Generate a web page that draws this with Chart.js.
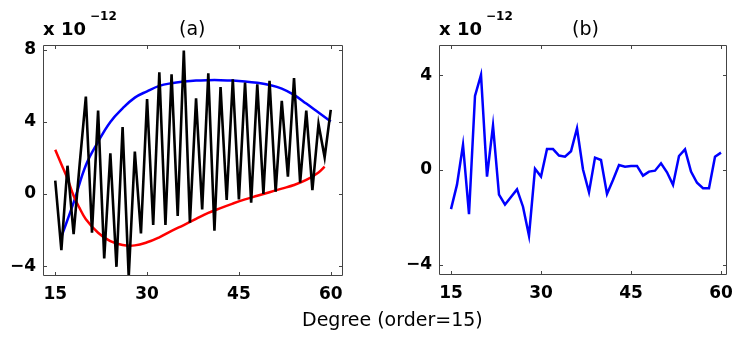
<!DOCTYPE html>
<html>
<head>
<meta charset="utf-8">
<script src="https://cdn.jsdelivr.net/npm/chart.js@4.4.1/dist/chart.umd.min.js"></script>
<style>
  html, body { margin: 0; padding: 0; background: #fff; }
  #wrap { position: relative; width: 741px; height: 343px; overflow: hidden; background: #fff; }
  .pane { position: absolute; top: 0; height: 343px; }
  .txt { position: absolute; white-space: nowrap; line-height: 1; color: #000; }
  .mult { font-family: "DejaVu Sans", sans-serif; font-weight: bold; font-size: 18px; }
  .sup { font-family: "DejaVu Sans", sans-serif; font-weight: bold; font-size: 12px; }
  .lab { font-family: "DejaVu Sans", sans-serif; font-size: 19px; }
</style>
</head>
<body>
<div id="wrap">
  <div class="pane" style="left:0;width:370px;"><canvas id="ca"></canvas></div>
  <div class="pane" style="left:370px;width:371px;"><canvas id="cb"></canvas></div>
  <div class="txt mult" style="left:43px;top:20px;">x 10</div>
  <div class="txt sup" style="left:90px;top:10px;">&minus;12</div>
  <div class="txt mult" style="left:439px;top:20px;">x 10</div>
  <div class="txt sup" style="left:486px;top:10px;">&minus;12</div>
  <div class="txt lab" id="ta" style="left:179px;top:19px;">(a)</div>
  <div class="txt lab" id="tb" style="left:572px;top:19px;">(b)</div>
  <div class="txt lab" id="xl" style="left:302px;top:310px;">Degree (order=15)</div>
</div>
<script>
// ---------- data ----------
const degrees = [15,16,17,18,19,20,21,22,23,24,25,26,27,28,29,30,31,32,33,34,35,36,37,38,39,40,41,42,43,44,45,46,47,48,49,50,51,52,53,54,55,56,57,58,59,60];

// panel (a), black series (x 1e-12)
const seriesBlackA = [0.74,-3.11,1.57,-2.22,1.7,5.41,-2.15,4.63,-3.57,2.26,-4.04,3.72,-4.6,2.36,-2.19,5.27,-1.72,6.76,-1.72,6.65,-1.22,7.96,-1.59,5.31,-0.85,6.70,-2.04,5.93,-0.33,6.37,-0.30,6.19,-0.48,6.09,0.0,6.28,0.13,5.17,0.96,6.43,0.63,4.63,0.22,3.89,2.04,4.67];

// panel (a), red fitted curve
const degreesRed = [15,16,17,18,19,20,22,24,26,28,30,32,34,36,38,40,42,44,46,48,50,52,54,56,58,59];
const seriesRedA = [2.46,1.65,0.85,-0.1,-0.8,-1.4,-2.15,-2.62,-2.83,-2.85,-2.68,-2.4,-2.05,-1.72,-1.38,-1.05,-0.78,-0.53,-0.3,-0.1,0.1,0.3,0.5,0.78,1.2,1.52];

// panel (a), blue fitted curve
const degreesBlue = [16,18,20,22,24,26,28,30,32,34,36,38,40,42,44,46,48,50,52,54,56,58,60];
const seriesBlueA = [-2.37,-0.48,1.6,2.9,4.0,4.75,5.35,5.7,6.0,6.15,6.24,6.3,6.32,6.32,6.3,6.25,6.17,6.05,5.85,5.5,5.02,4.52,4.02];

// panel (b), blue series
const seriesBlueB = [-1.65,-0.62,1.06,-1.86,3.12,4.01,-0.28,1.87,-1.04,-1.46,-1.14,-0.82,-1.55,-2.77,0.05,-0.28,0.88,0.88,0.61,0.56,0.79,1.76,0.02,-0.94,0.52,0.42,-1.01,-0.42,0.21,0.14,0.17,0.17,-0.24,-0.07,-0.03,0.28,-0.10,-0.63,0.59,0.87,-0.07,-0.54,-0.77,-0.77,0.56,0.73];

// tick labels
const xTicks = [15,30,45,60];
const yTicksA = [-4,0,4,8];
const yTicksB = [-4,0,4];

// ---------- helpers ----------
const pts = (xs, ys) => xs.map((x, i) => ({x: x, y: ys[i]}));
const fmt = v => (v < 0 ? '\u2212' + Math.abs(v) : String(v));
const tickFont = {family: '"DejaVu Sans", sans-serif', size: 17, weight: 'bold'};

const boxTicks = {
  id: 'boxTicks',
  afterDraw(chart) {
    const {ctx, chartArea: a} = chart;
    const xs = chart.scales.x, ys = chart.scales.y;
    const L = 4;
    ctx.save();
    ctx.strokeStyle = '#444';
    ctx.lineWidth = 1;
    ctx.beginPath();
    ctx.rect(a.left + 0.5, a.top + 0.5, a.right - a.left - 1, a.bottom - a.top - 1);
    xs.ticks.forEach(t => {
      const p = Math.round(xs.getPixelForValue(t.value)) + 0.5;
      ctx.moveTo(p, a.bottom); ctx.lineTo(p, a.bottom - L);
      ctx.moveTo(p, a.top); ctx.lineTo(p, a.top + L);
    });
    ys.ticks.forEach(t => {
      const p = Math.round(ys.getPixelForValue(t.value)) + 0.5;
      ctx.moveTo(a.left, p); ctx.lineTo(a.left + L, p);
      ctx.moveTo(a.right, p); ctx.lineTo(a.right - L, p);
    });
    ctx.stroke();
    ctx.restore();
  }
};

function makeOptions(cfg) {
  return {
    responsive: true,
    maintainAspectRatio: false,
    animation: false,
    devicePixelRatio: 1,
    layout: {padding: {left: 0, top: cfg.top, right: cfg.right, bottom: 0}},
    plugins: {legend: {display: false}, tooltip: {enabled: false}, title: {display: false}},
    elements: {point: {radius: 0}},
    scales: {
      x: {
        type: 'linear', min: cfg.xmin, max: cfg.xmax,
        grid: {display: false, drawTicks: false},
        border: {display: false},
        afterBuildTicks: s => { s.ticks = xTicks.map(v => ({value: v})); },
        afterFit: s => { s.height = cfg.xh; },
        ticks: {font: tickFont, color: '#000', padding: 8, maxRotation: 0, callback: v => fmt(v)}
      },
      y: {
        type: 'linear', min: cfg.ymin, max: cfg.ymax,
        grid: {display: false, drawTicks: false},
        border: {display: false},
        afterBuildTicks: s => { s.ticks = cfg.yt.map(v => ({value: v})); },
        afterFit: s => { s.width = cfg.yw; },
        ticks: {font: tickFont, color: '#000', padding: 7, callback: v => fmt(v)}
      }
    }
  };
}

new Chart(document.getElementById('ca'), {
  type: 'line',
  data: {
    datasets: [
      {data: pts(degrees, seriesBlackA), borderColor: '#000', borderWidth: 2.6, tension: 0, fill: false},
      {data: pts(degreesRed, seriesRedA), borderColor: '#ff0000', borderWidth: 2.5, tension: 0.4, fill: false},
      {data: pts(degreesBlue, seriesBlueA), borderColor: '#0000ff', borderWidth: 2.5, tension: 0.4, fill: false}
    ]
  },
  options: makeOptions({top: 45, right: 27, xmin: 13, xmax: 62, ymin: -4.55, ymax: 8.27, yt: yTicksA, xh: 67, yw: 43}),
  plugins: [boxTicks]
});

new Chart(document.getElementById('cb'), {
  type: 'line',
  data: {
    datasets: [
      {data: pts(degrees, seriesBlueB), borderColor: '#0000ff', borderWidth: 2.5, tension: 0, fill: false}
    ]
  },
  options: makeOptions({top: 45, right: 8, xmin: 13, xmax: 61, ymin: -4.43, ymax: 5.27, yt: yTicksB, xh: 68, yw: 69}),
  plugins: [boxTicks]
});
</script>
</body>
</html>
